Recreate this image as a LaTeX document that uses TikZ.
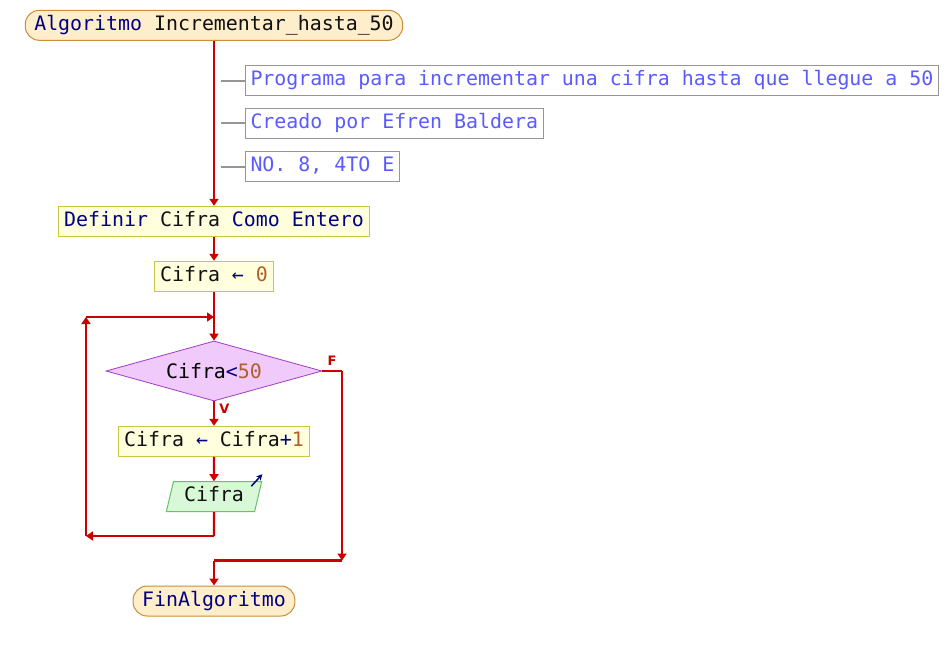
\documentclass[tikz,border=0pt]{standalone}
\usepackage{fontspec}
\setmonofont{DejaVu Sans Mono}
\setsansfont{DejaVu Sans}
\usetikzlibrary{shapes.geometric,arrows.meta}

\definecolor{wirered}{RGB}{204,0,0}
\definecolor{kwblue}{RGB}{0,0,128}
\definecolor{numbrown}{RGB}{176,96,40}
\definecolor{cmtblue}{RGB}{90,90,255}
\definecolor{cmtgray}{RGB}{150,150,150}
\definecolor{endfill}{RGB}{255,238,204}
\definecolor{endline}{RGB}{204,140,60}
\definecolor{procfill}{RGB}{255,255,222}
\definecolor{procline}{RGB}{200,200,70}
\definecolor{condfill}{RGB}{240,202,250}
\definecolor{condline}{RGB}{160,60,200}
\definecolor{outfill}{RGB}{216,248,216}
\definecolor{outline}{RGB}{100,196,100}

\newcommand{\pskw}[1]{\textcolor{kwblue}{#1}}
\newcommand{\psnum}[1]{\textcolor{numbrown}{#1}}

\begin{document}
\begin{tikzpicture}[x=1pt, y=-1pt,
    font=\ttfamily\fontsize{19.9pt}{22pt}\selectfont,
    base/.style={line width=1pt, inner ysep=0pt, minimum height=30pt,
        text height=14pt, text depth=4pt, text={rgb,255:red,16;green,16;blue,16}},
    terminal/.style={base, draw=endline, fill=endfill, rounded corners=14pt, inner xsep=9pt},
    proc/.style={base, draw=procline, fill=procfill, inner xsep=6pt},
    cond/.style={diamond, aspect=3.6, draw=condline, fill=condfill, line width=0.8pt, inner sep=0pt,
        minimum width=216pt, minimum height=60pt},
    outp/.style={base, trapezium, trapezium left angle=72, trapezium right angle=108,
        trapezium stretches=true, draw=outline, fill=outfill, minimum width=96pt},
    cmt/.style={base, draw=cmtgray, text=cmtblue, inner xsep=5.5pt, anchor=west},
    wire/.style={draw=wirered, line width=2.4pt},
    flow/.style={wire, -{Triangle[width=9pt,length=7pt]}},
    cmtlink/.style={draw=cmtgray, line width=2pt},
    lbl/.style={text=wirered, font=\sffamily\bfseries\fontsize{13pt}{14pt}\selectfont, inner sep=0pt}
]
\useasboundingbox (0,0) rectangle (950,651);

% nodes
\node[terminal] (start) at (214,25.3) {\pskw{Algoritmo} Incrementar\_hasta\_50};
\node[cmt] (c1) at (244.5,80.5) {Programa para incrementar una cifra hasta que llegue a 50};
\node[cmt] (c2) at (244.5,123.2) {Creado por Efren Baldera};
\node[cmt] (c3) at (244.5,166.5) {NO. 8, 4TO E};
\node[proc] (def) at (214,221.3) {\pskw{Definir} Cifra \pskw{Como Entero}};
\node[proc] (ini) at (214,276.3) {Cifra \pskw{←} \psnum{0}};
\node[cond] (cond) at (214,371) {Cifra\pskw{<}\psnum{50}};
\node[proc] (inc) at (214,441.3) {Cifra \pskw{←} Cifra\pskw{+}\psnum{1}};
\node[outp] (out) at (214,496.7) {Cifra};
\node[terminal] (fin) at (214,601) {\pskw{FinAlgoritmo}};
\node[lbl] (flbl) at (332,361) {F};
\node[lbl] (vlbl) at (224.5,409) {V};

% corners
\coordinate (c1s) at (221,80.5);
\coordinate (c2s) at (221,123.2);
\coordinate (c3s) at (221,166.5);
\coordinate (ob) at (214,536);
\coordinate (lb) at (86,536);
\coordinate (lt) at (86,317);
\coordinate (mj) at (214,317);
\coordinate (fr) at (342,371);
\coordinate (fb) at (342,560.5);
\coordinate (fm) at (214,560.5);

% comments
\draw[cmtlink] (c1s) -- (c1);
\draw[cmtlink] (c2s) -- (c2);
\draw[cmtlink] (c3s) -- (c3);

% main flow
\draw[flow] (start) -- (def);
\draw[flow] (def) -- (ini);
\draw[flow] (ini) -- (cond);
\draw[flow] (cond) -- (inc);
\draw[flow] (inc) -- (out);

% loop back
\draw[wire] (out) -- (ob);
\draw[flow] (ob) -- (lb);
\draw[flow] (lb) -- (lt);
\draw[flow] (lt) -- (mj);

% exit
\draw[wire] (cond) -- (fr);
\draw[flow] (fr) -- (fb);
\draw[wire] (fb) -- (fm);
\draw[flow] (fm) -- (fin);

% output mark
\draw[kwblue, line width=1.5pt, -{Stealth[width=6pt,length=6pt]}]
    ([shift={(-11,5)}]out.top right corner) -- ([shift={(0,-7)}]out.top right corner);
\end{tikzpicture}
\end{document}
